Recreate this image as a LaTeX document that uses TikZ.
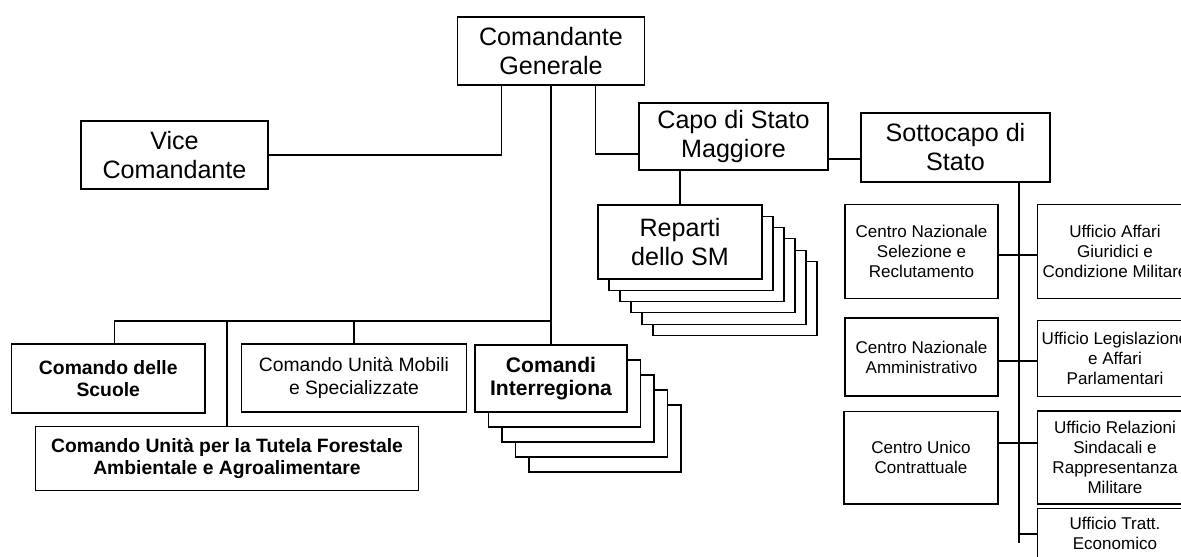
\documentclass[tikz,border=0pt]{standalone}
\usepackage{fontspec}
\setmainfont{Liberation Sans}

\tikzset{
  box/.style={draw, fill=white, align=center, inner sep=1pt},
  bigbox/.style={box, font=\fontsize{14.3}{16.5}\selectfont},
  midbox/.style={box, font=\fontsize{11}{12.8}\selectfont},
  boldbox/.style={box, font=\fontsize{11}{12.8}\selectfont\bfseries},
  smallbox/.style={box, font=\fontsize{9.7}{11.3}\selectfont},
}

\begin{document}
\begin{tikzpicture}[x=0.02cm, y=-0.02cm, line width=0.6pt]
    \useasboundingbox (0,0) rectangle (1181,556);

    % --- Top of the chart ---
    \node[bigbox, minimum width=3.74cm, minimum height=1.36cm] (cg) at (551,51) {Comandante\\Generale};
    \node[bigbox, minimum width=3.74cm, minimum height=1.36cm] (vc) at (174.5,155) {Vice\\Comandante};
    \node[bigbox, minimum width=3.78cm, minimum height=1.34cm] (csm) at (733.5,136.5) {Capo di Stato\\Maggiore};
    \node[bigbox, minimum width=3.78cm, minimum height=1.38cm] (scs) at (955.5,147.5) {Sottocapo di\\Stato};

    % --- Reparti: stack of sheets, back ones first ---
    \foreach \i in {5,...,1}
        \node[box, minimum width=3.28cm, minimum height=1.48cm] (rep\i) at (680+\i*11,242+\i*11.3) {};
    \node[bigbox, minimum width=3.28cm, minimum height=1.48cm] (rep) at (680,242) {Reparti\\dello SM};

    % --- Commands under the Comandante ---
    \foreach \i in {4,...,1}
        \node[box, minimum width=3.04cm, minimum height=1.34cm] (cir\i) at (551+\i*13.5,378.5+\i*15) {};
    \node[boldbox, font=\fontsize{12}{13}\selectfont\bfseries, minimum width=3.04cm, minimum height=1.34cm] (cir) at (551,378.5) {Comandi\\Interregiona};
    \node[boldbox, minimum width=3.87cm, minimum height=1.38cm] (scu) at (108.25,378.5) {Comando delle\\Scuole};
    \node[midbox, minimum width=4.5cm, minimum height=1.36cm] (mob) at (354,378) {Comando Unità Mobili\\e Specializzate};
    \node[boldbox, minimum width=7.68cm, minimum height=1.28cm] (tut) at (227,458.5) {Comando Unità per la Tutela Forestale\\Ambientale e Agroalimentare};

    % --- Offices under the Sottocapo ---
    \node[smallbox, minimum width=3.06cm, minimum height=1.88cm] (cns) at (921.5,251.3) {Centro Nazionale\\Selezione e\\Reclutamento};
    \node[smallbox, minimum width=3.06cm, minimum height=1.56cm] (cna) at (921.5,357) {Centro Nazionale\\Amministrativo};
    \node[smallbox, minimum width=3.08cm, minimum height=1.85cm] (cuc) at (921,457.75) {Centro Unico\\Contrattuale};
    \node[smallbox, minimum width=3.1cm, minimum height=1.88cm] (uag) at (1115,251.3) {Ufficio Affari\\Giuridici e\\Condizione Militare};
    \node[smallbox, minimum width=3.1cm, minimum height=1.53cm] (ule) at (1115,358.3) {Ufficio Legislazione\\e Affari\\Parlamentari};
    \node[smallbox, minimum width=3.1cm, minimum height=1.86cm] (urs) at (1115,457.5) {Ufficio Relazioni\\Sindacali e\\Rappresentanza\\Militare};
    \node[smallbox, anchor=north, inner ysep=5pt, text depth=1.3cm, minimum width=3.1cm] (ute) at (1115,508) {Ufficio Tratt.\\Economico};

    % --- Connectors ---
    \draw (cg.south west) ++(44.5,0) |- (vc.east);
    \draw (cg.south west) ++(138.5,0) |- (csm.west |- 0,154);
    \draw (cg.south) -- (cir.north);
    \draw (csm.east |- 0,159) -- (scs.west |- 0,159);
    \draw (rep.north) -- (rep.north |- csm.south);

    \coordinate (bus) at (551,321);
    \draw (bus) -| ([xshift=0.12cm]scu.north);
    \draw (tut.north) -- (tut.north |- bus);
    \draw (mob.north) -- (mob.north |- bus);

    \coordinate (send) at (1019,543);
    \draw (scs.south -| send) -- (send);
    \draw (cns.east |- 0,255) -- (uag.west |- 0,255);
    \draw (cna.east |- 0,361) -- (ule.west |- 0,361);
    \draw (cuc.east |- 0,443) -- (urs.west |- 0,443);
    \draw (send |- 0,534) -- (ute.west |- 0,534);

\end{tikzpicture}
\end{document}
